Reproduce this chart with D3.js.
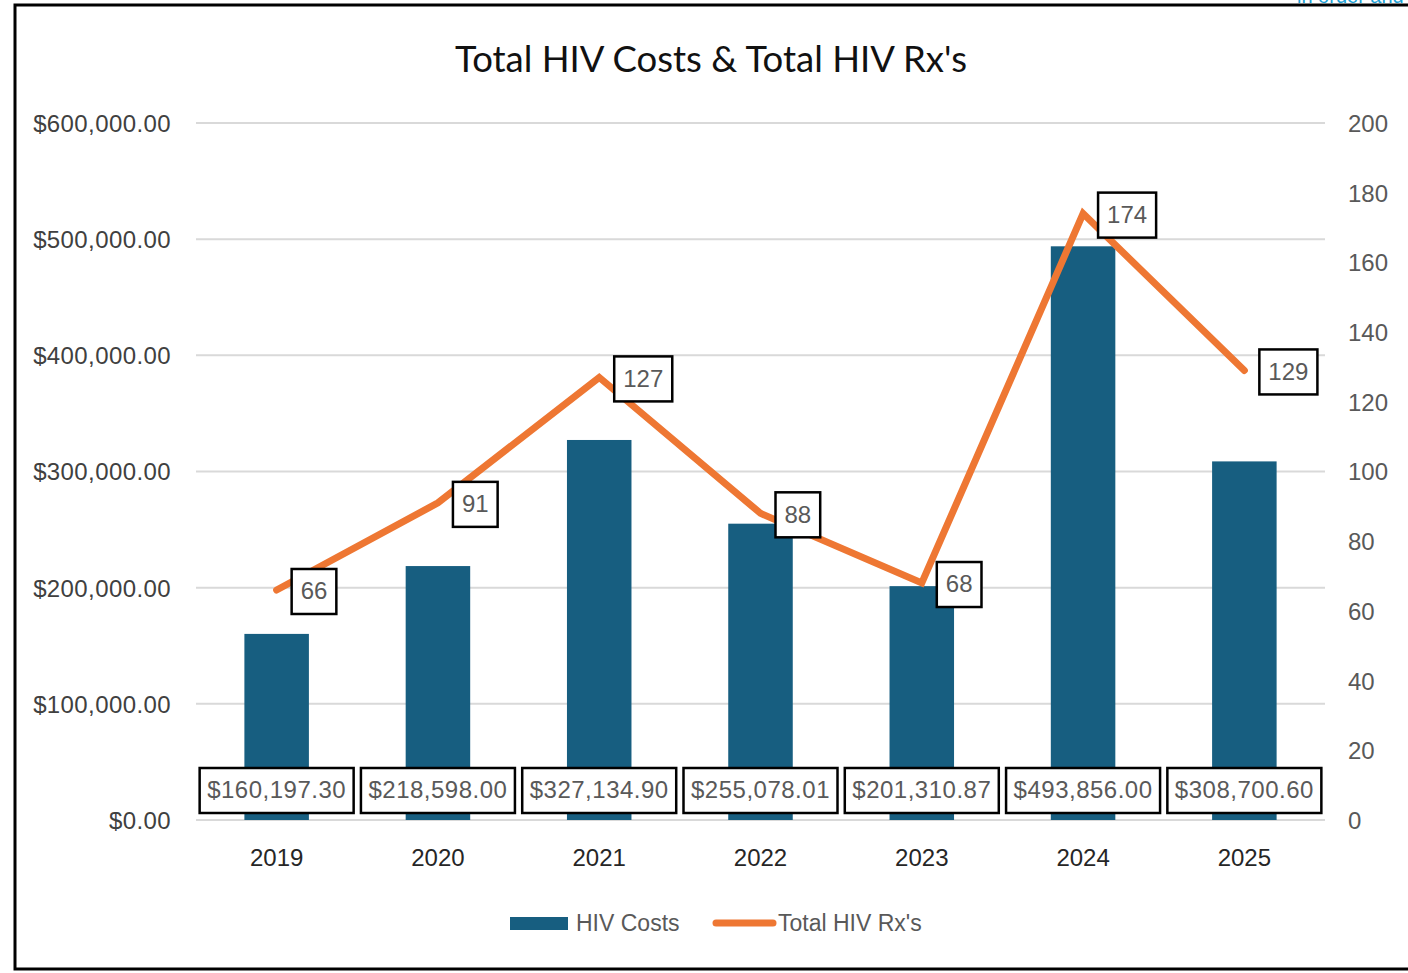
<!DOCTYPE html>
<html><head><meta charset="utf-8">
<script src="https://cdn.jsdelivr.net/npm/d3@7"></script>
<style>body{margin:0;background:#fff}svg{display:block}</style>
</head><body>
<script>
const years = ["2019","2020","2021","2022","2023","2024","2025"];
const costs = [160197.30, 218598.00, 327134.90, 255078.01, 201310.87, 493856.00, 308700.60];
const rxs = [66, 91, 127, 88, 68, 174, 129];
const leftTicks = [0,100000,200000,300000,400000,500000,600000];
const rightTicks = [0,20,40,60,80,100,120,140,160,180,200];
const title = "Total HIV Costs & Total HIV Rx's";
const seriesNames = ["HIV Costs", "Total HIV Rx's"];

const W = 1408, H = 973;
const svg = d3.select("body").append("svg").attr("width", W).attr("height", H);
const font = "'Liberation Sans', Arial, sans-serif";

// partial clipped text at top right (cut off in the reference too)
svg.append("text").attr("x", 1297).attr("y", 3).attr("font-family", font).attr("font-size", 20)
  .attr("fill", "#1a9fd4").text("in order and");

svg.append("rect").attr("x", 15).attr("y", 5).attr("width", 1400).attr("height", 964)
  .attr("fill", "#fff").attr("stroke", "#000").attr("stroke-width", 3);

const x = d3.scaleBand().domain(years).range([196, 1325]).paddingInner(0.6).paddingOuter(0.3);
const yL = d3.scaleLinear().domain([0, 600000]).range([820, 123]);
const yR = d3.scaleLinear().domain([0, 200]).range([820, 123]);

svg.append("text").attr("x", 711).attr("y", 72).attr("text-anchor", "middle")
  .attr("font-family", "Lato, 'Open Sans', sans-serif").attr("font-size", 36.5).attr("fill", "#111").text(title);

// gridlines
svg.append("g").selectAll("line").data(leftTicks).join("line")
  .attr("x1", 196).attr("x2", 1325).attr("y1", d => yL(d)).attr("y2", d => yL(d))
  .attr("stroke", "#d9d9d9").attr("stroke-width", 2);

const fmtMoney = d => "$" + d3.format(",.2f")(d);

// left axis
const gL = svg.append("g").attr("transform", "translate(171,0)")
  .call(d3.axisLeft(yL).tickValues(leftTicks).tickFormat(fmtMoney).tickSize(0).tickPadding(0));
gL.select(".domain").remove();
gL.selectAll("text").attr("font-family", font).attr("font-size", 24).attr("letter-spacing", 0.4)
  .attr("fill", "#404040").attr("dy", "0.35em");

// right axis
const gR = svg.append("g").attr("transform", "translate(1348,0)")
  .call(d3.axisRight(yR).tickValues(rightTicks).tickSize(0).tickPadding(0));
gR.select(".domain").remove();
gR.selectAll("text").attr("font-family", font).attr("font-size", 24).attr("fill", "#595959").attr("dy", "0.35em");

// x axis
const gX = svg.append("g").attr("transform", "translate(0,849)")
  .call(d3.axisBottom(x).tickSize(0).tickPadding(0));
gX.select(".domain").remove();
gX.selectAll("text").attr("font-family", font).attr("font-size", 24).attr("fill", "#262626").attr("dy", "0.71em");

// bars
const barColor = "#175e80", lineColor = "#ee7733";
svg.append("g").selectAll("rect").data(costs).join("rect")
  .attr("x", (d, i) => x(years[i])).attr("width", x.bandwidth())
  .attr("y", d => yL(d)).attr("height", d => yL(0) - yL(d)).attr("fill", barColor);

// line
const cx = i => x(years[i]) + x.bandwidth() / 2;
svg.append("path").datum(rxs)
  .attr("d", d3.line().x((d, i) => cx(i)).y(d => yR(d)))
  .attr("fill", "none").attr("stroke", lineColor).attr("stroke-width", 7)
  .attr("stroke-linejoin", "miter").attr("stroke-linecap", "round");

// bar labels
const bl = svg.append("g").selectAll("g").data(costs).join("g")
  .attr("transform", (d, i) => `translate(${cx(i)},790)`);
bl.append("rect").attr("x", -77).attr("y", -22).attr("width", 154).attr("height", 45)
  .attr("fill", "#fff").attr("stroke", "#000").attr("stroke-width", 2.5);
bl.append("text").attr("text-anchor", "middle").attr("dy", "0.35em").attr("letter-spacing", 0.5)
  .attr("font-family", font).attr("font-size", 24).attr("fill", "#595959").text(fmtMoney);

// line labels
const ll = svg.append("g").selectAll("g").data(rxs).join("g")
  .attr("transform", (d, i) => `translate(${cx(i) + 15},${yR(d) + 1})`);
ll.each(function(d) {
  const g = d3.select(this);
  const t = g.append("text").attr("x", 9).attr("dy", "0.35em")
    .attr("font-family", font).attr("font-size", 24).attr("fill", "#595959").text(d);
  const w = t.node().getComputedTextLength();
  g.insert("rect", "text").attr("x", 0).attr("y", -22).attr("width", w + 18).attr("height", 45)
    .attr("fill", "#fff").attr("stroke", "#000").attr("stroke-width", 2.5);
});

// legend
const lg = svg.append("g");
lg.append("rect").attr("x", 510).attr("y", 917).attr("width", 58).attr("height", 13).attr("fill", barColor);
lg.append("text").attr("x", 576).attr("y", 923).attr("dy", "0.35em").attr("font-family", font)
  .attr("font-size", 23).attr("fill", "#595959").text(seriesNames[0]);
lg.append("line").attr("x1", 716).attr("x2", 773).attr("y1", 923).attr("y2", 923)
  .attr("stroke", lineColor).attr("stroke-width", 7).attr("stroke-linecap", "round");
lg.append("text").attr("x", 778).attr("y", 923).attr("dy", "0.35em").attr("font-family", font)
  .attr("font-size", 23).attr("fill", "#595959").text(seriesNames[1]);
</script>
</body></html>
